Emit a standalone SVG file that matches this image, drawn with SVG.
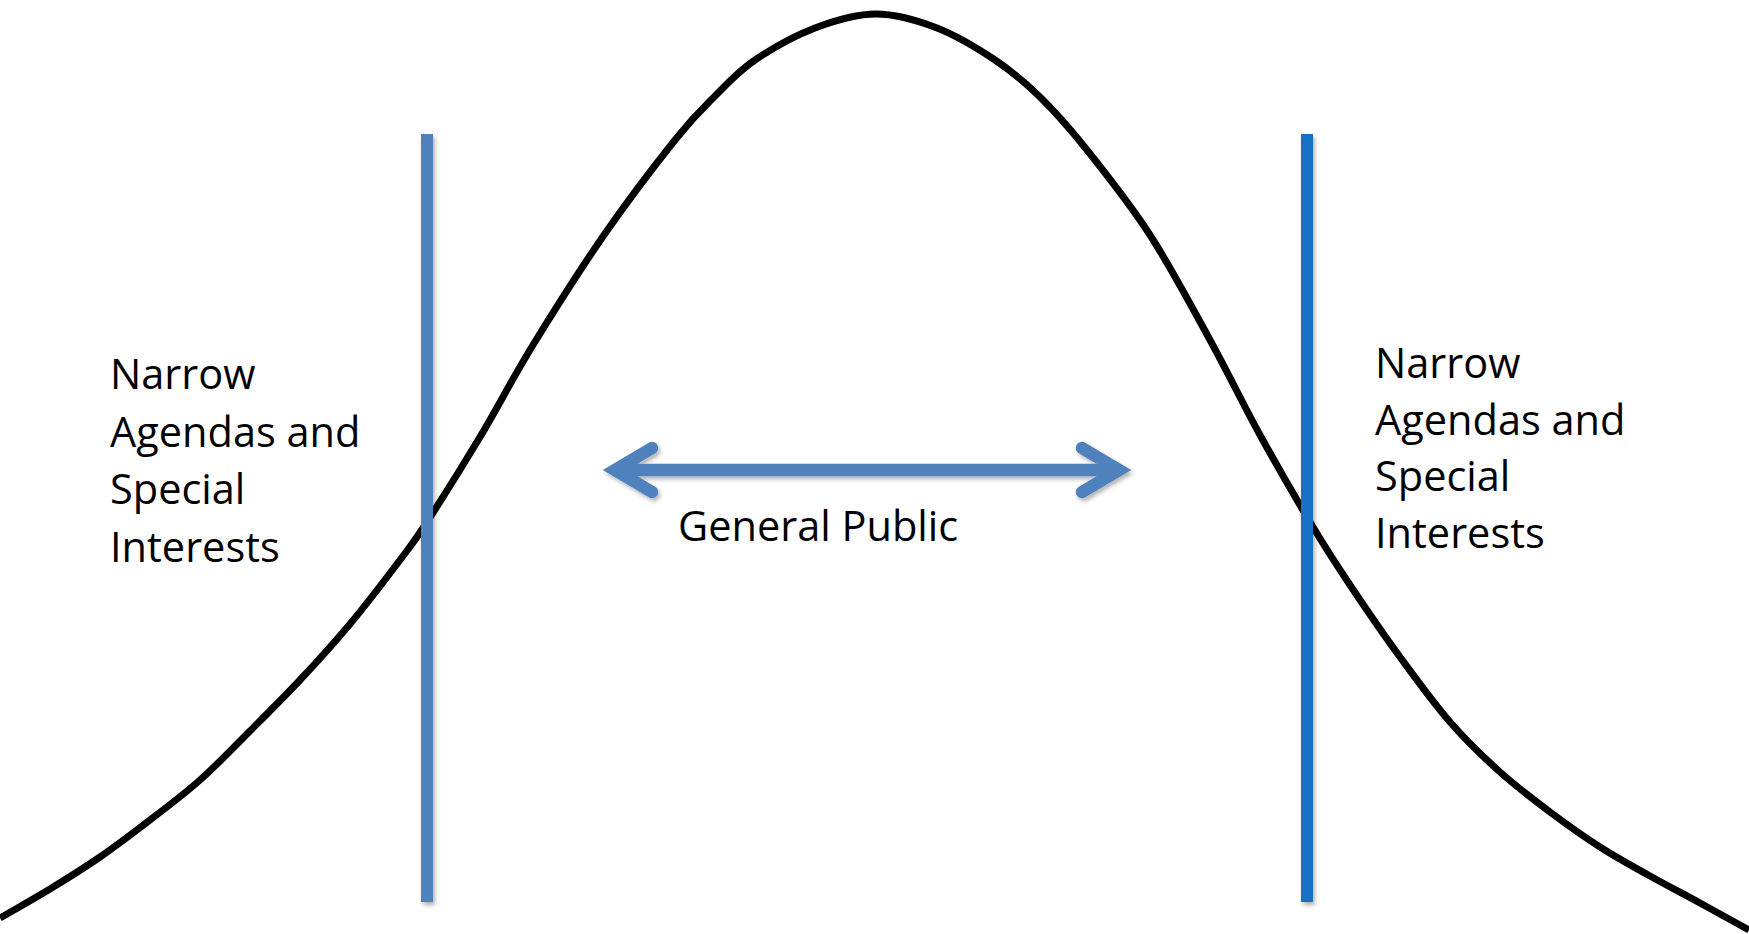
<svg xmlns="http://www.w3.org/2000/svg" width="1749" height="934" viewBox="0 0 1749 934">
<style>
.lbl{font-family:"Open Sans","Liberation Sans",sans-serif;font-size:41.5px;fill:#000}
.curve{fill:none;stroke:#000;stroke-width:7;stroke-linejoin:round;stroke-linecap:butt}
.arrow{stroke:#4F81BD;stroke-width:12.5;fill:none}
</style>
<defs>
<filter id="sh" filterUnits="userSpaceOnUse" x="0" y="0" width="1749" height="934">
<feDropShadow dx="2" dy="3" stdDeviation="2" flood-color="#000" flood-opacity="0.3"/>
</filter>
</defs>
<rect width="1749" height="934" fill="#fff"/>
<g id="curve">
<path class="curve" d="M0,918 C16.7,908.3 33.3,899.2 50,889 C66.7,878.8 83.3,868.5 100,857 C116.7,845.5 133.3,832.8 150,820 C166.7,807.2 183.3,794.8 200,780 C216.7,765.2 233.3,747.7 250,731 C266.7,714.3 283.3,697.8 300,680 C316.7,662.2 333.3,644 350,624 C366.7,604 387.2,577 400,560 C412.8,543 413.7,542.5 427,522 C440.3,501.5 462.3,466.5 480,437 C497.7,407.5 512.3,378.7 533,345 C553.7,311.3 580.3,269.2 604,235 C627.7,200.8 656.5,163.2 675,140 C693.5,116.8 701.7,109.3 715,96 C728.3,82.7 738.3,71.3 755,60 C771.7,48.7 794.8,35.7 815,28 C835.2,20.3 855.7,14 876,14 C896.3,14 917.2,20.3 937,28 C956.8,35.7 977.8,48.5 995,60 C1012.2,71.5 1024.7,82 1040,97 C1055.3,112 1068.7,127 1087,150 C1105.3,173 1129.5,203.3 1150,235 C1170.5,266.7 1191.7,306.7 1210,340 C1228.3,373.3 1242.8,403.8 1260,435 C1277.2,466.2 1298,502 1313,527 C1328,552 1335.5,563.3 1350,585 C1364.5,606.7 1383.3,634.2 1400,657 C1416.7,679.8 1433.3,702.8 1450,722 C1466.7,741.2 1483.3,757 1500,772 C1516.7,787 1533.3,799.5 1550,812 C1566.7,824.5 1583.3,836.3 1600,847 C1616.7,857.7 1633.3,866.7 1650,876 C1666.7,885.3 1683.5,894 1700,903 C1716.5,912 1732.7,921 1749,930"/>
</g>
<g id="left-bar" filter="url(#sh)">
<rect x="421" y="134" width="12" height="768" fill="#4F81BD"/>
</g>
<g id="right-bar" filter="url(#sh)">
<rect x="1301" y="134" width="12" height="768" fill="#1570C4"/>
</g>
<g id="connectors" filter="url(#sh)">
<line class="arrow" x1="614" y1="470" x2="1120" y2="470"/>
<polyline class="arrow" points="652,448 615,470 652,492" stroke-linecap="round" stroke-linejoin="miter" stroke-miterlimit="10"/>
<polyline class="arrow" points="1082,448 1119,470 1082,492" stroke-linecap="round" stroke-linejoin="miter" stroke-miterlimit="10"/>
</g>
<g id="label-center">
<text class="lbl" x="678" y="541">General Public</text>
</g>
<g id="label-left">
<text class="lbl" x="110" y="389">Narrow</text>
<text class="lbl" x="110" y="447">Agendas and</text>
<text class="lbl" x="110" y="504">Special</text>
<text class="lbl" x="110" y="562">Interests</text>
</g>
<g id="label-right">
<text class="lbl" x="1375" y="378">Narrow</text>
<text class="lbl" x="1375" y="435">Agendas and</text>
<text class="lbl" x="1375" y="491">Special</text>
<text class="lbl" x="1375" y="548">Interests</text>
</g>
</svg>
